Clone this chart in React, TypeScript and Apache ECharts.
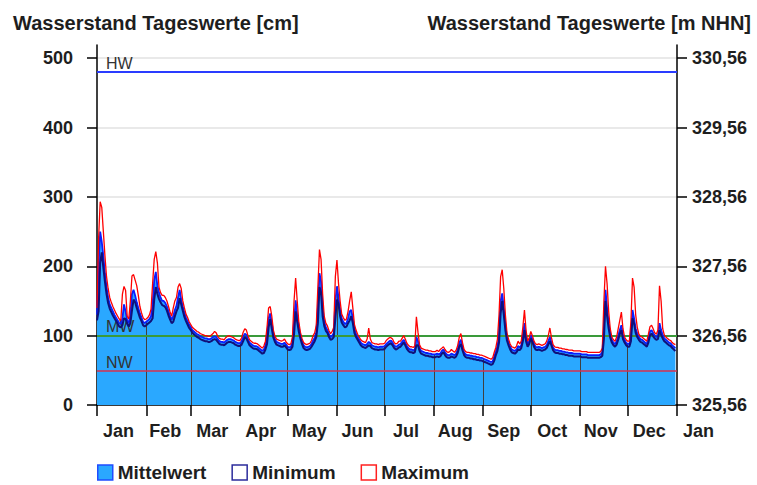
import React, { useEffect, useRef } from 'react';
import * as echarts from 'echarts';

// Month boundaries (day of year) and labels
const monthStarts = [0, 31, 59, 90, 120, 151, 181, 212, 243, 273, 304, 334, 365];
const monthLabels = ['Jan', 'Feb', 'Mar', 'Apr', 'May', 'Jun', 'Jul', 'Aug', 'Sep', 'Oct', 'Nov', 'Dec', 'Jan'];
const yTicks = [0, 100, 200, 300, 400, 500];
const NHN_ZERO = 325.56;
const HW = 480;
const MW = 100;
const NW = 49;

// Daily mean water level [cm]
const mittelwert = [
  // Jan
  130, 200, 250, 235, 215, 190, 170, 155, 145, 140, 135, 130, 126, 122, 118, 117, 125, 145, 135, 122, 118, 130, 160, 166, 158, 148, 140, 132, 126, 120, 118,
  // Feb
  120, 122, 124, 128, 145, 180, 192, 172, 162, 155, 150, 150, 147, 142, 135, 128, 123, 128, 137, 143, 155, 166, 152, 142, 133, 126, 121, 116,
  // Mar
  112, 108, 106, 104, 102, 101, 99, 98, 97, 96, 96, 95, 95, 96, 98, 99, 98, 95, 92, 91, 91, 90, 92, 94, 95, 95, 94, 93, 91, 90, 89,
  // Apr
  89, 92, 98, 103, 101, 95, 90, 88, 86, 85, 85, 84, 82, 80, 78, 80, 86, 100, 125, 132, 118, 102, 95, 91, 90, 89, 88, 88, 90, 87,
  // May
  84, 83, 84, 90, 120, 151, 130, 112, 100, 92, 86, 84, 83, 84, 85, 88, 93, 97, 105, 140, 190, 178, 140, 120, 112, 108, 102, 98, 100, 104, 150,
  // Jun
  171, 155, 137, 125, 120, 117, 118, 125, 135, 137, 125, 110, 103, 98, 94, 90, 88, 87, 86, 88, 91, 89, 86, 85, 84, 84, 83, 84, 84, 84,
  // Jul
  85, 88, 90, 92, 93, 90, 86, 84, 85, 87, 88, 91, 94, 90, 85, 82, 80, 80, 79, 80, 98, 92, 82, 78, 77, 76, 75, 75, 74, 74, 73,
  // Aug
  73, 73, 74, 73, 74, 78, 80, 76, 73, 72, 72, 74, 73, 72, 74, 80, 90, 94, 84, 76, 73, 72, 72, 71, 71, 70, 70, 69, 69, 68, 68,
  // Sep
  67, 66, 65, 64, 63, 62, 63, 70, 77, 85, 100, 150, 161, 140, 115, 98, 90, 84, 80, 79, 78, 80, 85, 83, 86, 100, 118, 98, 88, 92,
  // Oct
  101, 95, 88, 84, 83, 84, 83, 82, 83, 84, 86, 92, 98, 90, 83, 80, 79, 79, 78, 78, 77, 77, 76, 76, 75, 75, 75, 74, 74, 74, 74,
  // Nov
  74, 73, 73, 73, 73, 72, 72, 72, 72, 72, 72, 72, 72, 73, 76, 110, 166, 140, 118, 102, 94, 90, 88, 92, 100, 108, 115, 100, 94, 90,
  // Dec
  88, 88, 100, 137, 125, 110, 103, 98, 95, 94, 92, 90, 88, 95, 106, 108, 104, 100, 98, 100, 118, 108, 101, 96, 94, 92, 90, 89, 86, 84, 82,
];

// Daily maximum [cm]
const maximum = [
  140, 240, 293, 285, 250, 215, 185, 168, 155, 148, 142, 137, 132, 128, 124, 122, 160, 171, 165, 128, 124, 150, 186, 188, 180, 172, 158, 142, 133, 126, 123,
  124, 126, 130, 138, 175, 210, 221, 205, 170, 162, 158, 158, 155, 150, 142, 134, 128, 140, 150, 155, 170, 175, 168, 150, 140, 131, 126, 120,
  116, 112, 110, 108, 106, 105, 103, 102, 101, 100, 100, 99, 99, 101, 103, 106, 104, 99, 96, 95, 95, 94, 97, 99, 100, 99, 98, 97, 95, 94, 93,
  93, 97, 105, 110, 108, 100, 94, 92, 90, 89, 89, 88, 86, 84, 82, 85, 92, 112, 140, 142, 128, 108, 99, 95, 94, 93, 92, 93, 95, 91,
  88, 87, 88, 98, 150, 183, 150, 120, 105, 96, 90, 88, 87, 88, 89, 93, 100, 104, 115, 170, 224, 210, 160, 128, 118, 114, 107, 103, 106, 112, 185,
  209, 175, 150, 131, 126, 122, 124, 135, 150, 163, 140, 116, 108, 102, 98, 94, 92, 91, 90, 95, 111, 95, 90, 89, 88, 88, 87, 88, 88, 88,
  89, 93, 95, 97, 97, 95, 90, 88, 89, 92, 92, 96, 100, 95, 89, 86, 84, 84, 83, 85, 127, 105, 87, 82, 81, 80, 79, 79, 78, 78, 77,
  77, 77, 79, 77, 80, 82, 84, 80, 77, 76, 77, 80, 78, 76, 79, 86, 98, 103, 90, 80, 77, 76, 76, 75, 75, 74, 74, 73, 73, 72, 72,
  71, 70, 69, 68, 67, 66, 68, 76, 83, 95, 130, 185, 195, 168, 130, 104, 95, 88, 84, 83, 82, 85, 92, 88, 92, 112, 137, 108, 92, 97,
  106, 100, 92, 88, 87, 88, 87, 86, 87, 88, 92, 100, 111, 97, 87, 84, 83, 83, 82, 82, 81, 81, 80, 80, 79, 79, 79, 78, 78, 78, 78,
  78, 77, 77, 77, 77, 76, 76, 76, 76, 76, 76, 76, 76, 77, 82, 150, 200, 175, 135, 110, 98, 94, 92, 98, 110, 122, 134, 110, 98, 94,
  92, 92, 120, 183, 170, 130, 112, 102, 99, 98, 96, 94, 92, 102, 113, 115, 110, 104, 102, 108, 172, 150, 110, 101, 98, 96, 94, 93, 90, 88, 87,
];

// Daily minimum [cm]
const minimum = [
  122, 135, 205, 220, 198, 178, 160, 147, 139, 134, 129, 125, 121, 117, 113, 112, 115, 125, 124, 117, 113, 118, 136, 152, 148, 140, 133, 126, 121, 115, 113,
  115, 117, 119, 121, 125, 152, 170, 160, 153, 148, 144, 143, 141, 136, 129, 123, 118, 120, 128, 135, 140, 154, 145, 136, 127, 121, 116, 111,
  108, 104, 102, 100, 98, 97, 95, 94, 93, 92, 92, 91, 91, 92, 94, 95, 94, 91, 88, 87, 87, 86, 88, 90, 91, 91, 90, 89, 87, 86, 85,
  85, 87, 92, 98, 96, 91, 86, 84, 82, 81, 81, 80, 78, 76, 74, 75, 80, 88, 112, 124, 110, 97, 91, 87, 86, 85, 84, 84, 86, 83,
  80, 79, 80, 84, 102, 135, 120, 106, 96, 88, 82, 80, 79, 80, 81, 84, 88, 92, 98, 118, 170, 162, 128, 114, 107, 104, 98, 94, 95, 98, 125,
  152, 145, 128, 119, 115, 112, 113, 118, 122, 128, 118, 104, 98, 94, 90, 86, 84, 83, 82, 84, 86, 85, 82, 81, 80, 80, 79, 80, 80, 80,
  81, 84, 86, 88, 89, 86, 82, 80, 81, 83, 84, 87, 90, 86, 81, 78, 76, 76, 75, 76, 86, 86, 78, 74, 73, 72, 71, 71, 70, 70, 69,
  69, 69, 70, 69, 70, 74, 76, 72, 69, 68, 68, 70, 69, 68, 70, 75, 84, 88, 79, 72, 69, 68, 68, 67, 67, 66, 66, 65, 65, 64, 64,
  63, 62, 61, 60, 59, 58, 59, 64, 72, 78, 90, 132, 150, 130, 108, 93, 86, 80, 76, 75, 74, 76, 80, 79, 82, 92, 108, 92, 84, 88,
  96, 91, 84, 80, 79, 80, 79, 78, 79, 80, 82, 87, 92, 86, 79, 76, 75, 75, 74, 74, 73, 73, 72, 72, 71, 71, 71, 70, 70, 70, 70,
  70, 69, 69, 69, 69, 68, 68, 68, 68, 68, 68, 68, 68, 69, 71, 95, 150, 128, 110, 97, 90, 86, 84, 87, 94, 102, 108, 95, 90, 86,
  84, 84, 92, 125, 117, 104, 98, 94, 91, 90, 88, 86, 84, 90, 100, 103, 99, 96, 94, 95, 108, 101, 96, 92, 90, 88, 86, 85, 82, 80, 78,
];

const FONT = '"Liberation Sans", Arial, Helvetica, sans-serif';
const TEXT_COLOR = '#1e1e1e';

export default function App() {
  const ref = useRef<HTMLDivElement>(null);

  useEffect(() => {
    if (!ref.current) return;
    const chart = echarts.init(ref.current, null, { renderer: 'svg' });

    const W = 757;
    const gridLeft = 97;
    const gridRight = 80;
    const plotWidth = W - gridLeft - gridRight;
    const yearDays = monthStarts[monthStarts.length - 1];
    const labelAxisMax = yearDays + 31;
    const labelGridRight = W - gridLeft - (plotWidth * labelAxisMax) / yearDays;

    const labelPos = monthLabels.map((_, i) => {
      const s = monthStarts[i];
      const e = i + 1 < monthStarts.length ? monthStarts[i + 1] : s + 31;
      return (s + e) / 2 - 2;
    });
    const labelFor = (v: number) => {
      const idx = labelPos.findIndex((p) => Math.abs(p - v) < 0.01);
      return idx >= 0 ? monthLabels[idx] : '';
    };

    const toPairs = (arr: number[]) => arr.map((v, i) => [i, v]);

    const axisLabelStyle = {
      fontFamily: FONT,
      fontSize: 18,
      fontWeight: 'bold' as const,
      color: TEXT_COLOR,
    };

    const refLabel = (txt: string) => ({
      show: true,
      formatter: txt,
      position: 'insideStartTop',
      distance: [9, 1],
      color: '#333',
      fontFamily: FONT,
      fontSize: 16,
    });

    const verticals = monthStarts.slice(1, -1).map((ms) => [
      { coord: [ms, 0], lineStyle: { color: '#404040', width: 1, type: 'solid' } },
      { coord: [ms, mittelwert[ms]] },
    ]);

    const option: any = {
      animation: false,
      backgroundColor: '#ffffff',
      textStyle: { fontFamily: FONT },
      title: [
        {
          text: 'Wasserstand Tageswerte [cm]',
          left: 13,
          top: 13,
          padding: 0,
          textStyle: { fontFamily: FONT, fontSize: 20, fontWeight: 'bold', color: TEXT_COLOR },
        },
        {
          text: 'Wasserstand Tageswerte [m NHN]',
          right: 6,
          top: 13,
          padding: 0,
          textStyle: { fontFamily: FONT, fontSize: 20, fontWeight: 'bold', color: TEXT_COLOR },
        },
      ],
      legend: {
        left: 95,
        top: 461,
        padding: 2,
        icon: 'rect',
        itemWidth: 15,
        itemHeight: 15,
        itemGap: 25,
        selectedMode: false,
        textStyle: { fontFamily: FONT, fontSize: 19, fontWeight: 'bold', color: TEXT_COLOR },
        data: [
          { name: 'Mittelwert', itemStyle: { color: '#2aa8ff', borderColor: '#1f4cff', borderWidth: 1.5 } },
          { name: 'Minimum', itemStyle: { color: '#ffffff', borderColor: '#2c2c9c', borderWidth: 1.5 } },
          { name: 'Maximum', itemStyle: { color: '#ffffff', borderColor: '#ff2020', borderWidth: 1.5 } },
        ],
      },
      grid: [
        { left: gridLeft, right: gridRight, top: 45, bottom: 80 },
        { left: gridLeft, right: labelGridRight, top: 45, bottom: 80 },
      ],
      xAxis: [
        {
          type: 'value',
          gridIndex: 0,
          min: 0,
          max: yearDays,
          axisLine: { show: true, onZero: false, lineStyle: { color: '#000', width: 1.5 } },
          axisTick: { show: true, length: 11, customValues: monthStarts, lineStyle: { color: '#000', width: 1.5 } },
          axisLabel: { show: false },
          splitLine: { show: false },
        },
        {
          type: 'value',
          gridIndex: 1,
          min: 0,
          max: labelAxisMax,
          axisLine: { show: false },
          axisTick: { show: false },
          splitLine: { show: false },
          axisLabel: {
            ...axisLabelStyle,
            customValues: labelPos,
            margin: 17,
            formatter: (v: number) => labelFor(v),
          },
        },
      ],
      yAxis: [
        {
          type: 'value',
          gridIndex: 0,
          position: 'left',
          min: 0,
          max: 519,
          axisLine: { show: true, lineStyle: { color: '#000', width: 1.5 } },
          axisTick: { show: true, length: 10, customValues: yTicks, lineStyle: { color: '#000', width: 1.5 } },
          axisLabel: { ...axisLabelStyle, customValues: yTicks, margin: 24 },
          splitLine: { show: true, lineStyle: { color: '#e2e2e2', width: 1.5 } },
        },
        {
          type: 'value',
          gridIndex: 0,
          position: 'right',
          min: 0,
          max: 519,
          axisLine: { show: true, lineStyle: { color: '#000', width: 1.5 } },
          axisTick: { show: true, length: 10, customValues: yTicks, lineStyle: { color: '#000', width: 1.5 } },
          axisLabel: {
            ...axisLabelStyle,
            customValues: yTicks,
            margin: 15,
            formatter: (v: number) => (NHN_ZERO + v / 100).toFixed(2).replace('.', ','),
          },
          splitLine: { show: false },
        },
        { type: 'value', gridIndex: 1, min: 0, max: 519, show: false },
      ],
      series: [
        {
          name: 'Mittelwert',
          type: 'line',
          xAxisIndex: 0,
          yAxisIndex: 0,
          data: toPairs(mittelwert),
          showSymbol: false,
          silent: true,
          z: 1,
          itemStyle: { color: '#2aa8ff' },
          lineStyle: { width: 0, opacity: 0 },
          areaStyle: { color: '#2aa8ff', opacity: 1 },
          markLine: {
            silent: true,
            symbol: 'none',
            z: 2,
            animation: false,
            label: { show: false },
            data: [
              ...verticals,
              { yAxis: HW, lineStyle: { color: '#2a3cff', width: 2, type: 'solid' }, label: refLabel('HW') },
              { yAxis: MW, lineStyle: { color: '#3a9a3a', width: 2, type: 'solid' }, label: refLabel('MW') },
              { yAxis: NW, lineStyle: { color: '#d8304e', width: 1.5, type: 'solid' }, label: refLabel('NW') },
            ],
          },
        },
        {
          name: 'Mittelwert',
          type: 'line',
          xAxisIndex: 0,
          yAxisIndex: 0,
          data: toPairs(mittelwert),
          showSymbol: false,
          silent: true,
          z: 3,
          itemStyle: { color: '#0a1eff' },
          lineStyle: { color: '#0a1eff', width: 1.8 },
        },
        {
          name: 'Maximum',
          type: 'line',
          xAxisIndex: 0,
          yAxisIndex: 0,
          data: toPairs(maximum),
          showSymbol: false,
          silent: true,
          z: 3,
          itemStyle: { color: '#ff0000' },
          lineStyle: { color: '#ff0000', width: 1.3 },
        },
        {
          name: 'Minimum',
          type: 'line',
          xAxisIndex: 0,
          yAxisIndex: 0,
          data: toPairs(minimum),
          showSymbol: false,
          silent: true,
          z: 4,
          itemStyle: { color: '#10107a' },
          lineStyle: { color: '#10107a', width: 2 },
        },
      ],
    };

    chart.setOption(option);
    return () => chart.dispose();
  }, []);

  return (
    <div
      ref={ref}
      style={{ position: 'absolute', left: 0, top: 0, width: 757, height: 485 }}
    />
  );
}
